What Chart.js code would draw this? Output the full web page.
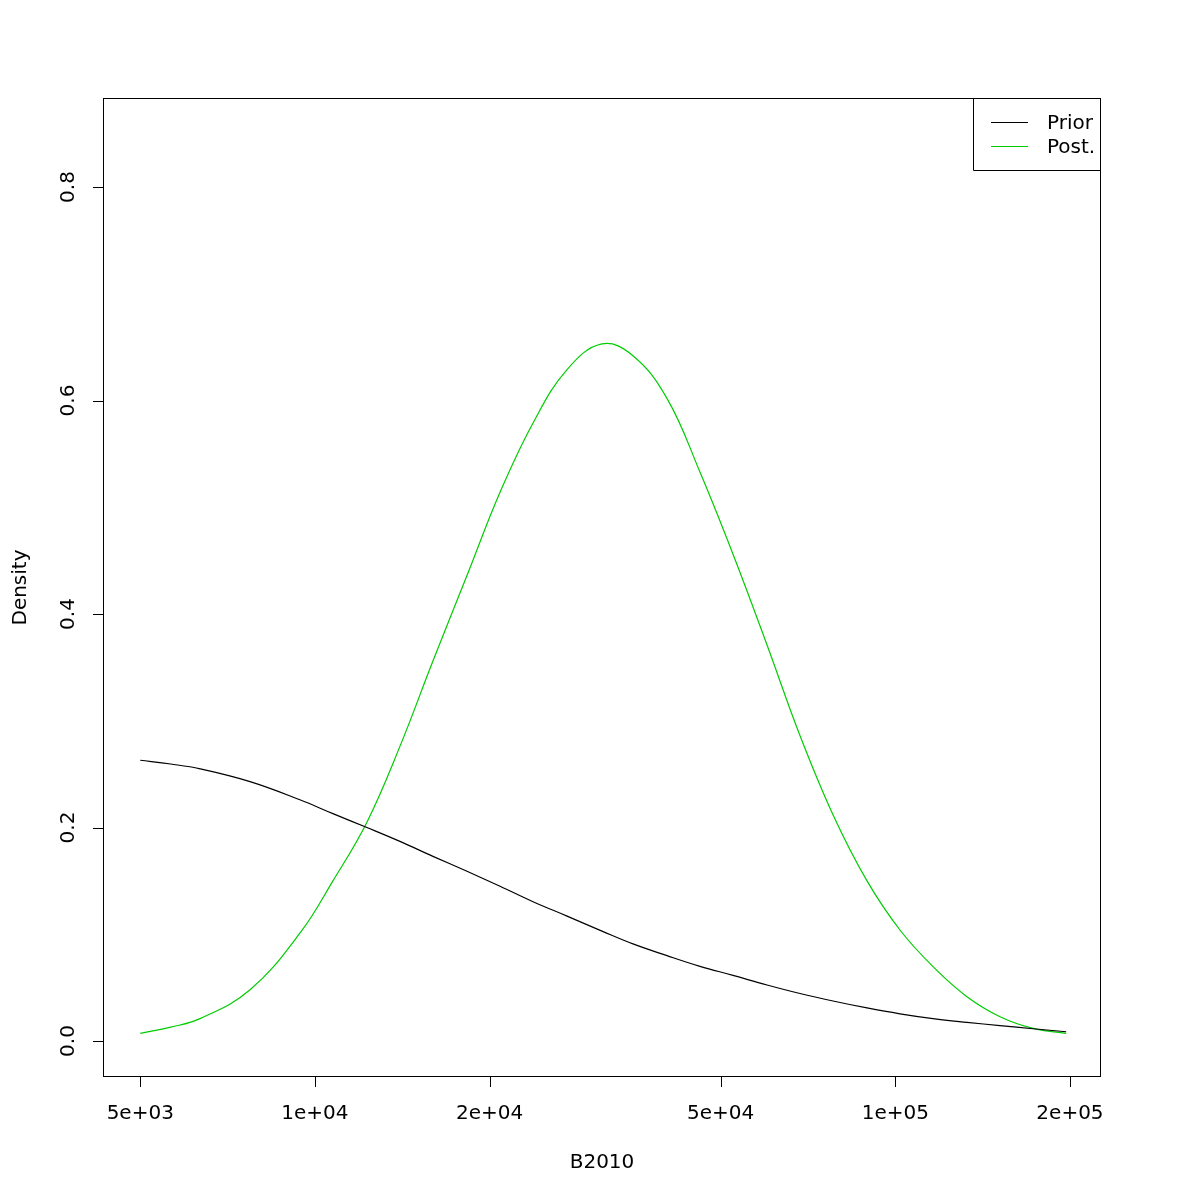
<!DOCTYPE html>
<html>
<head>
<meta charset="utf-8">
<script src="https://cdn.jsdelivr.net/npm/chart.js@4.4.0/dist/chart.umd.min.js"></script>
<style>
  html, body { margin: 0; padding: 0; background: #fff; }
</style>
</head>
<body>
<canvas id="densityChart" width="1200" height="1200"></canvas>
<script>
// values
const b2010 = [5000, 5640, 6340, 7730, 9420, 10740, 12290, 14010, 15970, 18280, 20840,
  23760, 27190, 31230, 35320, 40420, 46070, 52530, 60120, 68530, 78100,
  89390, 101880, 116140, 132900, 151530, 172740, 197000];
const priorDensity = [0.263, 0.2595, 0.255, 0.243, 0.226, 0.213, 0.200, 0.187, 0.173, 0.159, 0.145,
  0.1305, 0.117, 0.103, 0.091, 0.080, 0.070, 0.0615, 0.0525, 0.0445, 0.0375,
  0.031, 0.0255, 0.021, 0.0175, 0.0145, 0.0115, 0.0087];
const postDensity = [0.0072, 0.013, 0.021, 0.048, 0.101, 0.150, 0.205, 0.276, 0.356, 0.436, 0.514,
  0.579, 0.629, 0.653, 0.642, 0.602, 0.533, 0.456, 0.371, 0.286, 0.212,
  0.150, 0.104, 0.0697, 0.0415, 0.0228, 0.0119, 0.0072];

const xTicks = [5000, 10000, 20000, 50000, 100000, 200000];
const xTickLabels = ["5e+03", "1e+04", "2e+04", "5e+04", "1e+05", "2e+05"];
const yTicks = [0, 0.2, 0.4, 0.6, 0.8];
const yTickLabels = ["0.0", "0.2", "0.4", "0.6", "0.8"];
const seriesNames = ["Prior", "Post."];
const seriesColors = ["#000000", "#00cd00"];
const xTitle = "B2010";
const yTitle = "Density";

const FONT = '20px "DejaVu Sans", sans-serif';

const toPoints = (ys) => b2010.map((x, i) => ({ x, y: ys[i] }));

// R-style box, axes and legend drawn on top of the library scales
const rAxes = {
  id: "rAxes",
  afterDraw(chart) {
    const { ctx, chartArea: a, scales } = chart;
    const xs = scales.x, ys = scales.y;
    ctx.save();
    ctx.strokeStyle = "#000";
    ctx.fillStyle = "#000";
    ctx.lineWidth = 1;
    ctx.font = FONT;

    ctx.strokeRect(a.left + 0.5, a.top + 0.5, a.right - a.left - 1, a.bottom - a.top - 1);

    // x axis
    ctx.textAlign = "center";
    ctx.textBaseline = "middle";
    ctx.beginPath();
    xTicks.forEach((v) => {
      const px = Math.round(xs.getPixelForValue(v)) + 0.5;
      ctx.moveTo(px, a.bottom);
      ctx.lineTo(px, a.bottom + 10);
    });
    ctx.stroke();
    xTicks.forEach((v, i) => {
      ctx.fillText(xTickLabels[i], xs.getPixelForValue(v), 1114);
    });
    ctx.fillText(xTitle, (a.left + a.right) / 2, 1163);

    // y axis
    ctx.beginPath();
    yTicks.forEach((v) => {
      const py = Math.round(ys.getPixelForValue(v)) + 0.5;
      ctx.moveTo(a.left - 10, py);
      ctx.lineTo(a.left, py);
    });
    ctx.stroke();
    yTicks.forEach((v, i) => {
      ctx.save();
      ctx.translate(69, ys.getPixelForValue(v));
      ctx.rotate(-Math.PI / 2);
      ctx.fillText(yTickLabels[i], 0, 0);
      ctx.restore();
    });
    ctx.save();
    ctx.translate(21, (a.top + a.bottom) / 2);
    ctx.rotate(-Math.PI / 2);
    ctx.fillText(yTitle, 0, 0);
    ctx.restore();

    // legend in the top right corner
    const boxLeft = 973.5, boxTop = a.top + 0.5, boxBottom = 170.5;
    ctx.beginPath();
    ctx.moveTo(a.right - 0.5, boxBottom);
    ctx.lineTo(boxLeft, boxBottom);
    ctx.lineTo(boxLeft, boxTop);
    ctx.stroke();
    ctx.textAlign = "left";
    seriesNames.forEach((name, i) => {
      const ly = 122 + i * 24;
      ctx.strokeStyle = seriesColors[i];
      ctx.beginPath();
      ctx.moveTo(991, ly + 0.5);
      ctx.lineTo(1028, ly + 0.5);
      ctx.stroke();
      ctx.fillStyle = "#000";
      ctx.fillText(name, 1047, ly + 2);
    });
    ctx.restore();
  }
};

new Chart(document.getElementById("densityChart"), {
  type: "line",
  data: {
    datasets: [
      {
        label: seriesNames[0],
        data: toPoints(priorDensity),
        borderColor: seriesColors[0],
        borderWidth: 1.2,
        pointRadius: 0,
        tension: 0.4,
        fill: false,
      },
      {
        label: seriesNames[1],
        data: toPoints(postDensity),
        borderColor: seriesColors[1],
        borderWidth: 1.2,
        pointRadius: 0,
        tension: 0.4,
        fill: false,
      },
    ],
  },
  options: {
    responsive: false,
    animation: false,
    devicePixelRatio: 1,
    layout: { padding: { left: 0, top: 98, right: 99, bottom: 0 } },
    plugins: { legend: { display: false }, tooltip: { enabled: false } },
    scales: {
      x: {
        type: "logarithmic",
        min: 4313,
        max: 226200,
        grid: { display: false, drawTicks: false },
        border: { display: false },
        ticks: { display: false },
        afterFit: (s) => { s.height = 123; },
      },
      y: {
        type: "linear",
        min: -0.0337,
        max: 0.8834,
        grid: { display: false, drawTicks: false },
        border: { display: false },
        ticks: { display: false },
        afterFit: (s) => { s.width = 103; },
      },
    },
  },
  plugins: [rAxes],
});
</script>
</body>
</html>
